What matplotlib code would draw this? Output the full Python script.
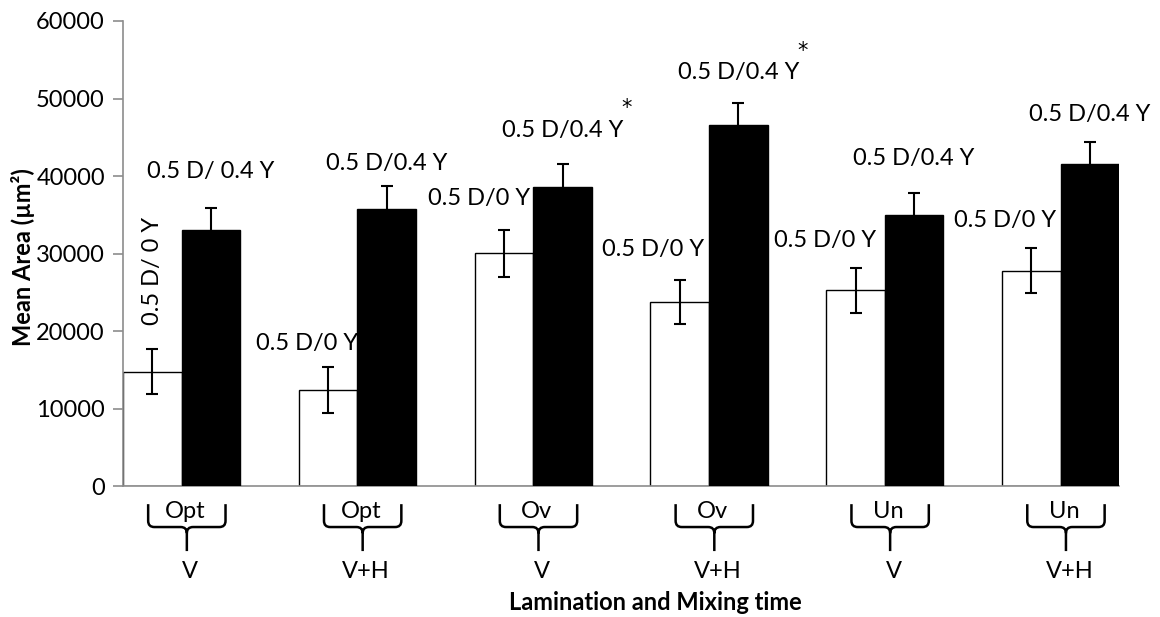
import numpy as np
import matplotlib
matplotlib.use("Agg")
import matplotlib.pyplot as plt
from matplotlib.path import Path
from matplotlib.patches import PathPatch

plt.rcParams['font.family'] = ['Lato', 'DejaVu Sans']

# data
mixing = ['Opt', 'Opt', 'Ov', 'Ov', 'Un', 'Un']
lamination = ['V', 'V+H', 'V', 'V+H', 'V', 'V+H']
white_means = [14800, 12450, 30050, 23750, 25250, 27800]
white_err = [2950, 2940, 3000, 2850, 2900, 2920]
black_means = [33050, 35750, 38600, 46550, 34950, 41500]
black_err = [2900, 2920, 2930, 2880, 2930, 2870]

white_labels = ['0.5 D/ 0 Y', '0.5 D/0 Y', '0.5 D/0 Y', '0.5 D/0 Y', '0.5 D/0 Y', '0.5 D/0 Y']
black_labels = ['0.5 D/ 0.4 Y', '0.5 D/0.4 Y', '0.5 D/0.4 Y', '0.5 D/0.4 Y', '0.5 D/0.4 Y', '0.5 D/0.4 Y']
significant = [False, False, True, True, False, False]

# label placement (offset from group centre, height in data units)
white_lbl_dx = [-0.167, -0.287, -0.31, -0.319, -0.342, -0.318]
white_lbl_y = [27745, 18430, 37150, 30540, 31740, 34320]
black_lbl_y = [40630, 41660, 45915, 53300, 42270, 47940]

x = np.arange(len(mixing))
w = 1 / 3
fs = 17

fig = plt.figure(figsize=(11.6, 6.17), dpi=100)
ax = fig.add_axes([0.1060, 0.2118, 0.8589, 0.7542])

ax.bar(x - w / 2, white_means, w, color='white', edgecolor='black', linewidth=1.0, zorder=2)
ax.bar(x + w / 2, black_means, w, color='black', edgecolor='black', linewidth=1.0, zorder=3)
ax.errorbar(x - w / 2, white_means, yerr=white_err, fmt='none', ecolor='black',
            elinewidth=1.5, capsize=4, capthick=1.5, zorder=4)
ax.errorbar(x + w / 2, black_means, yerr=black_err, fmt='none', ecolor='black',
            elinewidth=1.5, capsize=4, capthick=1.5, zorder=4)

ax.set_xlim(-w, len(mixing) - 1 + w)
ax.set_ylim(0, 60000)
ax.set_yticks(np.arange(0, 60001, 10000))
ax.set_xticks([])
for s in ['top', 'right']:
    ax.spines[s].set_visible(False)
for s in ['left', 'bottom']:
    ax.spines[s].set_color('#8c8c8c')
    ax.spines[s].set_linewidth(1.2)
ax.tick_params(axis='y', colors='#8c8c8c', length=7, width=1.2, labelsize=fs,
               labelcolor='black', pad=6)

# labels above bars
for i in range(len(mixing)):
    rot = 90 if i == 0 else 0
    ax.text(x[i] + white_lbl_dx[i], white_lbl_y[i], white_labels[i], ha='center',
            va='center', fontsize=fs, rotation=rot, zorder=2.5)
    ax.text(x[i] + w / 2, black_lbl_y[i], black_labels[i], ha='center', va='center',
            fontsize=fs, zorder=5)
    if significant[i]:
        ax.annotate('*', xy=(x[i] + w / 2, black_lbl_y[i]), xytext=(64, 22),
                    textcoords='offset pixels', ha='center', va='center',
                    fontsize=15, family='DejaVu Sans', annotation_clip=False)

# braces under each group
ytop, yline, ybot = -2300, -5250, -8350
hw, dx, dy = 0.22, 0.035, 800
for i in range(len(mixing)):
    xc = x[i] + 0.03
    x0, x1 = xc - hw, xc + hw
    verts = [(x0, ytop), (x0, yline + dy), (x0, yline), (x0 + dx, yline),
             (xc - dx, yline), (xc, yline), (xc, yline - dy), (xc, ybot),
             (xc, yline - dy), (xc, yline), (xc + dx, yline),
             (x1 - dx, yline), (x1, yline), (x1, yline + dy), (x1, ytop)]
    codes = [Path.MOVETO, Path.LINETO, Path.CURVE3, Path.CURVE3,
             Path.LINETO, Path.CURVE3, Path.CURVE3, Path.LINETO,
             Path.MOVETO, Path.CURVE3, Path.CURVE3,
             Path.LINETO, Path.CURVE3, Path.CURVE3, Path.LINETO]
    ax.add_patch(PathPatch(Path(verts, codes), fill=False, edgecolor='black',
                           linewidth=1.8, clip_on=False))
    ax.text(x[i] + 0.02, -3300, mixing[i], ha='center', va='center', fontsize=fs,
            clip_on=False)
    ax.text(x[i] + 0.05, -11000, lamination[i], ha='center', va='center', fontsize=fs,
            clip_on=False)

fig.text(0.0195, 0.583, 'Mean Area (µm²)', rotation=90, ha='center', va='center',
         fontsize=fs, fontweight='bold')
fig.text(0.5647, 0.0227, 'Lamination and Mixing time', ha='center', va='center',
         fontsize=fs, fontweight='bold')

fig.savefig('out.png', dpi=100)
